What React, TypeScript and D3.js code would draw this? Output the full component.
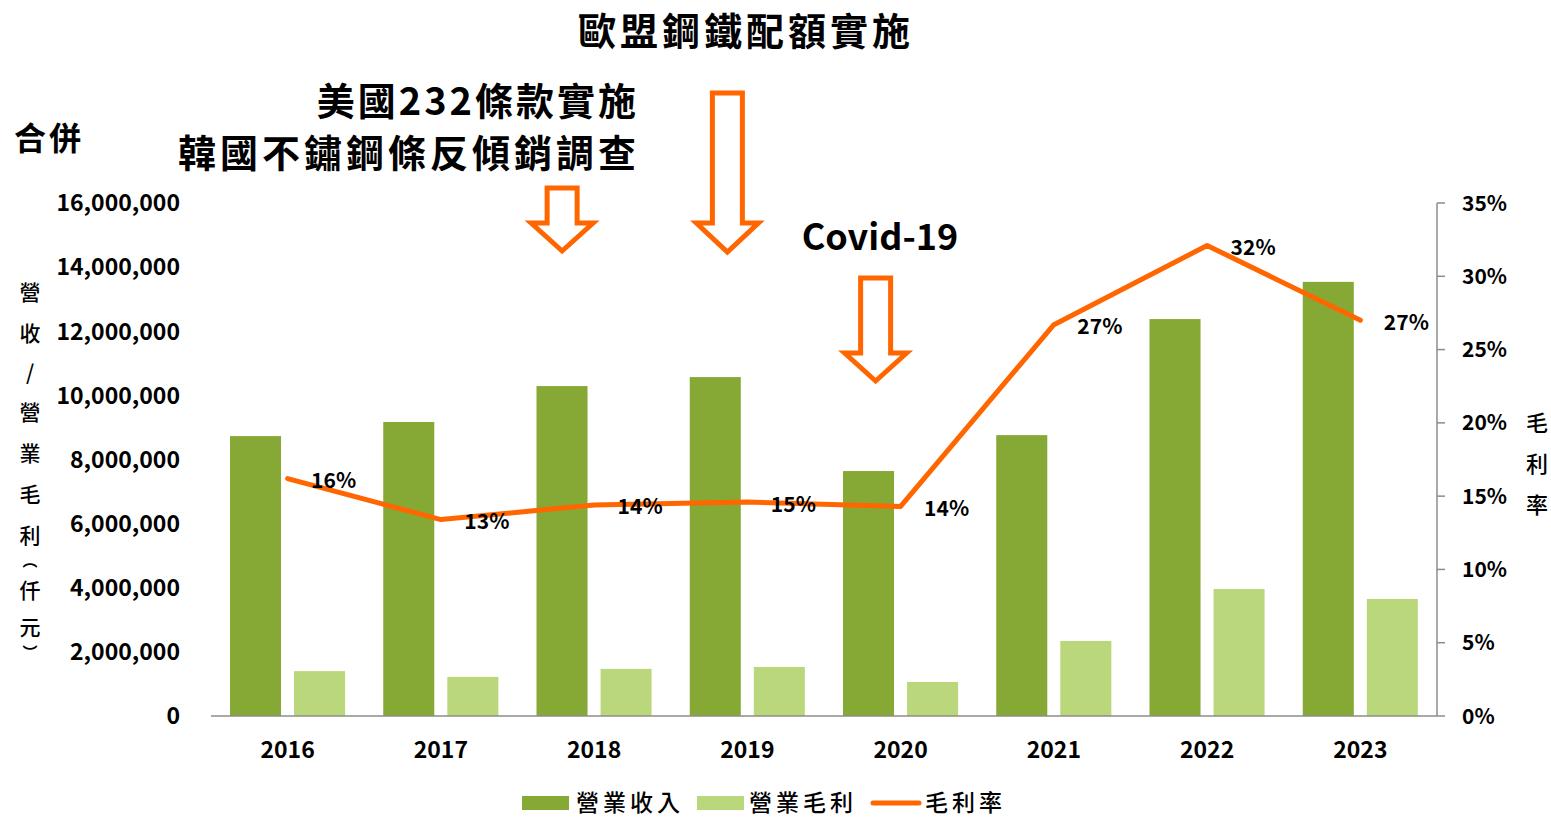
import * as d3 from "d3";
import React, { useEffect, useRef } from "react";

const years = ["2016", "2017", "2018", "2019", "2020", "2021", "2022", "2023"];
const revenue = [8730000, 9170000, 10290000, 10570000, 7640000, 8760000, 12380000, 13540000];
const grossProfit = [1400000, 1220000, 1470000, 1530000, 1060000, 2340000, 3960000, 3650000];
const grossMargin = [0.162, 0.134, 0.144, 0.146, 0.143, 0.267, 0.321, 0.27];
const marginLabels = ["16%", "13%", "14%", "15%", "14%", "27%", "32%", "27%"];
const leftTicks = [0, 2000000, 4000000, 6000000, 8000000, 10000000, 12000000, 14000000, 16000000];
const rightTicks = [0, 0.05, 0.1, 0.15, 0.2, 0.25, 0.3, 0.35];
const leftTitle = ["營", "收", "/", "營", "業", "毛", "利", "︵", "仟", "元", "︶"];
const rightTitle = ["毛", "利", "率"];
const legendItems = ["營業收入", "營業毛利", "毛利率"];

const DARK = "#86a935";
const LIGHT = "#bbd77c";
const ORANGE = "#ff6600";
const FONT = "'Noto Sans CJK TC', 'Noto Sans', sans-serif";

const App: React.FC = () => {
  const ref = useRef<SVGSVGElement | null>(null);

  useEffect(() => {
    if (!ref.current) return;
    d3.select(ref.current).selectAll("*").remove();

    const width = 1551;
    const height = 819;
    const margin = { top: 203, right: 114, bottom: 103, left: 211 };

    const svg = d3.select(ref.current).attr("width", width).attr("height", height)
      .style("font-family", FONT)
      .style("position", "absolute").style("left", "0px").style("top", "0px");

    const x = d3.scaleBand<string>().domain(years).range([margin.left, width - margin.right]);
    const y = d3.scaleLinear().domain([0, 16000000]).range([height - margin.bottom, margin.top]);
    const y2 = d3.scaleLinear().domain([0, 0.35]).range([height - margin.bottom, margin.top]);
    const bw = x.bandwidth();
    const barW = bw * 0.333;
    const pad = bw * 0.124;
    const gap = bw * 0.085;

    // bars
    svg.append("g").selectAll("rect").data(years).join("rect")
      .attr("x", (d) => x(d)! + pad)
      .attr("y", (_, i) => y(revenue[i]))
      .attr("width", barW)
      .attr("height", (_, i) => y(0) - y(revenue[i]))
      .attr("fill", DARK);
    svg.append("g").selectAll("rect").data(years).join("rect")
      .attr("x", (d) => x(d)! + pad + barW + gap)
      .attr("y", (_, i) => y(grossProfit[i]))
      .attr("width", barW)
      .attr("height", (_, i) => y(0) - y(grossProfit[i]))
      .attr("fill", LIGHT);

    // bottom axis line
    svg.append("line")
      .attr("x1", margin.left).attr("x2", width - margin.right)
      .attr("y1", y(0)).attr("y2", y(0))
      .attr("stroke", "#8c8c8c").attr("stroke-width", 1.5);

    // left ticks
    svg.append("g").selectAll("text").data(leftTicks).join("text")
      .attr("x", 180).attr("y", (d) => y(d)).attr("dy", "0.36em")
      .attr("text-anchor", "end").attr("font-weight", "bold").attr("font-size", 23)
      .text((d) => d3.format(",")(d));

    // right axis
    const rAxis = svg.append("g").attr("transform", `translate(${width - margin.right},0)`);
    rAxis.append("line").attr("y1", y2(0)).attr("y2", y2(0.35))
      .attr("stroke", "#8c8c8c").attr("stroke-width", 1.5);
    rAxis.selectAll("line.t").data(rightTicks).join("line").attr("class", "t")
      .attr("x1", 0).attr("x2", 8).attr("y1", (d) => y2(d)).attr("y2", (d) => y2(d))
      .attr("stroke", "#8c8c8c").attr("stroke-width", 1.5);
    rAxis.selectAll("text").data(rightTicks).join("text")
      .attr("x", 25).attr("y", (d) => y2(d)).attr("dy", "0.36em")
      .attr("font-weight", "bold").attr("font-size", 21)
      .text((d) => d3.format(".0%")(d));

    // x labels
    svg.append("g").selectAll("text").data(years).join("text")
      .attr("x", (d) => x(d)! + bw / 2).attr("y", 758)
      .attr("text-anchor", "middle").attr("font-weight", "bold").attr("font-size", 23)
      .text((d) => d);

    // margin line
    const line = d3.line<number>()
      .x((_, i) => x(years[i])! + bw / 2)
      .y((d) => y2(d));
    svg.append("path").datum(grossMargin)
      .attr("fill", "none").attr("stroke", ORANGE).attr("stroke-width", 5)
      .attr("stroke-linejoin", "round").attr("stroke-linecap", "round")
      .attr("d", line);

    svg.append("g").selectAll("text").data(marginLabels).join("text")
      .attr("x", (_, i) => x(years[i])! + bw / 2 + 46)
      .attr("y", (_, i) => y2(grossMargin[i]) + 2).attr("dy", "0.36em")
      .attr("text-anchor", "middle").attr("font-weight", "bold").attr("font-size", 21)
      .text((d) => d);

    // axis titles
    const leftY = [292, 333, 372, 412, 453, 494, 535, 561, 590, 627, 653];
    svg.append("g").selectAll("text").data(leftTitle).join("text")
      .attr("x", 30)
      .attr("y", (_, i) => leftY[i])
      .attr("dy", "0.36em").attr("text-anchor", "middle")
      .attr("font-size", (d) => (d === "︵" || d === "︶" ? 15 : 21))
      .attr("font-weight", (d) => (d === "︵" || d === "︶" ? 700 : 500))
      .text((d) => d);
    svg.append("g").selectAll("text").data(rightTitle).join("text")
      .attr("x", 1537).attr("y", (_, i) => 423 + i * 41)
      .attr("dy", "0.36em").attr("text-anchor", "middle").attr("font-size", 22)
      .attr("font-weight", 500)
      .text((d) => d);

    // annotations
    const note = (t: string, tx: number, ty: number, anchor: string, size: number, ls: number) =>
      svg.append("text").attr("x", tx).attr("y", ty).attr("text-anchor", anchor)
        .attr("font-weight", "bold").attr("font-size", size)
        .attr("letter-spacing", ls).text(t);
    note("歐盟鋼鐵配額實施", 746, 45, "middle", 38, 4);
    note("美國232條款實施", 639, 115, "end", 38, 3);
    note("韓國不鏽鋼條反傾銷調查", 640, 167, "end", 38, 4);
    note("Covid-19", 880, 250, "middle", 36, 0);
    note("合併", 14, 150, "start", 32, 3);

    // hollow arrows
    const arrow = (cx: number, top: number, neck: number, tip: number) => {
      const sw = 15, hw = 31;
      const pts: [number, number][] = [
        [cx - sw, top], [cx + sw, top], [cx + sw, neck], [cx + hw, neck],
        [cx, tip], [cx - hw, neck], [cx - sw, neck],
      ];
      svg.append("path").attr("d", d3.line()(pts) + "Z")
        .attr("fill", "white").attr("stroke", ORANGE).attr("stroke-width", 5)
        .attr("stroke-linejoin", "miter");
    };
    arrow(x("2018")! + bw / 2 - 32, 188, 223, 251);
    arrow(x("2019")! + bw / 2 - 20, 93, 223, 252);
    arrow(x("2020")! + bw / 2 - 25, 278, 353, 381);

    // legend
    const lg = svg.append("g").attr("font-size", 23);
    const lx = [522, 697, 871];
    const ly = 803;
    lg.append("rect").attr("x", lx[0]).attr("y", ly - 7).attr("width", 47).attr("height", 14).attr("fill", DARK);
    lg.append("rect").attr("x", lx[1]).attr("y", ly - 7).attr("width", 47).attr("height", 14).attr("fill", LIGHT);
    lg.append("line").attr("x1", lx[2] + 2).attr("x2", lx[2] + 48).attr("y1", ly).attr("y2", ly)
      .attr("stroke", ORANGE).attr("stroke-width", 5).attr("stroke-linecap", "round");
    lg.selectAll("text").data(legendItems).join("text")
      .attr("x", (_, i) => lx[i] + [54, 52, 54][i]).attr("y", ly).attr("dy", "0.36em")
      .attr("letter-spacing", 4).attr("font-weight", 500)
      .text((d) => d);
  }, []);

  return <svg ref={ref}></svg>;
};

export default App;
